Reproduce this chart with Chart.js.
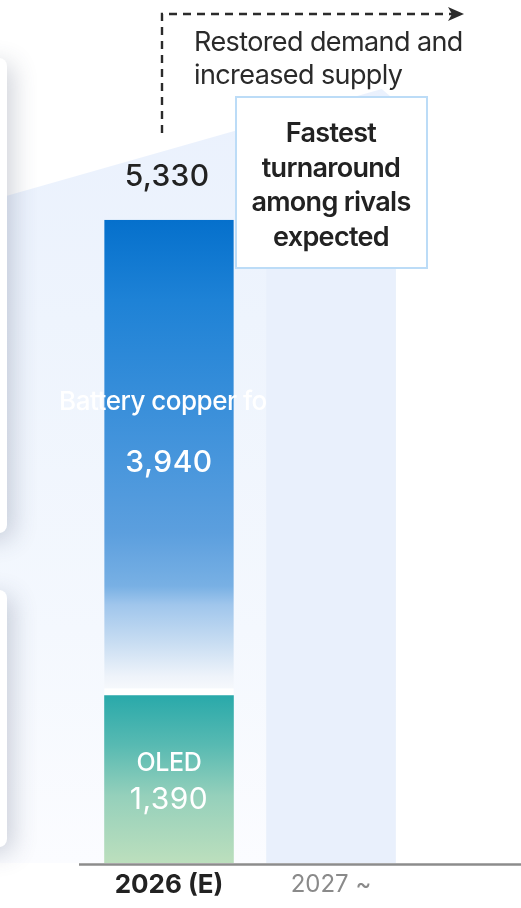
<!DOCTYPE html>
<html lang="en">
<head>
<meta charset="UTF-8">
<title>Copper foil demand outlook</title>
<script src="https://cdn.jsdelivr.net/npm/chart.js"></script>
<style>
  html, body { margin: 0; padding: 0; background: #fff; overflow: hidden; }
  .wrap { position: relative; width: 521px; height: 908px; }
  canvas { position: absolute; left: 0; top: 0; }
  /* cards of the previous panel peeking in from the left */
  .card {
    position: absolute;
    left: -300px;
    width: 307px;
    background: #fff;
    border-radius: 8px;
    box-shadow: 6px 6px 24px rgba(60, 70, 100, 0.24);
    z-index: 2;
  }
  .card.one { top: 58px; height: 475px; }
  .card.two { top: 590px; height: 257px; }
</style>
</head>
<body>
<div class="wrap">
  <canvas id="foilChart" width="521" height="908"></canvas>
  <div class="card one"></div>
  <div class="card two"></div>
</div>

<script>
  const categories = ['2026 (E)', '2027 ~'];
  const oled = [1390, null];
  const battery = [3940, null];
  const outlook = [null, 5600];   // 2027 column, no figure printed
  const totals = [5330, null];
  const seriesNames = ['OLED', 'Battery copper foil', 'Outlook'];
  const noteLines = ['Fastest', 'turnaround', 'among rivals', 'expected'];
  const arrowLines = ['Restored demand and', 'increased supply'];

  const fmt = v => v.toLocaleString('en-US');
  const font = (w, s) => `${w} ${s}px Inter, "Noto Sans", sans-serif`;

  // vertical gradient over one stacked segment
  function segGradient(ctx, from, to, stops) {
    const chart = ctx.chart;
    if (!chart.chartArea) return stops[0][1];
    const y = chart.scales.y;
    const g = chart.ctx.createLinearGradient(0, y.getPixelForValue(to), 0, y.getPixelForValue(from));
    stops.forEach(([o, c]) => g.addColorStop(o, c));
    return g;
  }

  function text(ctx, str, x, y, f, color, align, spacing) {
    ctx.font = f;
    ctx.fillStyle = color;
    ctx.textAlign = align || 'center';
    ctx.textBaseline = 'alphabetic';
    ctx.letterSpacing = spacing || '0px';
    ctx.fillText(str, x, y);
  }

  const BOX = { w: 191, top: 97, h: 171 };

  const decor = {
    id: 'decor',
    beforeDatasetsDraw(chart) {
      // pale wedge rising from the left edge toward the 2027 column
      const { ctx, scales: { y } } = chart;
      const col = chart.getDatasetMeta(2).data[1];
      const first = chart.getDatasetMeta(1).data[0];
      const base = y.getPixelForValue(0);
      const right = col.x + col.width / 2;
      const g = ctx.createLinearGradient(0, BOX.top - 10, 0, base);
      g.addColorStop(0, '#eaf1fd');
      g.addColorStop(0.3, '#eef4fd');
      g.addColorStop(0.7, '#f4f8fe');
      g.addColorStop(1, '#fbfcff');
      ctx.save();
      ctx.fillStyle = g;
      ctx.beginPath();
      ctx.moveTo(0, first.y - 22);
      ctx.lineTo(right - 14, BOX.top - 8);
      ctx.lineTo(right, BOX.top + 4);
      ctx.lineTo(right, base);
      ctx.lineTo(0, base);
      ctx.closePath();
      ctx.fill();
      ctx.restore();
    },
    afterDatasetDraw(chart, args) {
      if (args.index === 2) return;
      const ctx = chart.ctx;
      const el = chart.getDatasetMeta(args.index).data[0];
      if (!el) return;
      const mid = (el.y + el.base) / 2;
      ctx.save();
      if (args.index === 1) {
        text(ctx, seriesNames[1], el.x, mid - 47, font(500, 26), '#fff', 'center', '-0.5px');
        text(ctx, fmt(battery[0]), el.x, mid + 15, font(500, 30), '#fff', 'center', '0.5px');
      } else {
        text(ctx, seriesNames[0], el.x, mid - 8, font(500, 25), '#fff', 'center', '-0.3px');
        text(ctx, fmt(oled[0]), el.x, mid + 30, font(400, 30), '#fff', 'center', '0.5px');
      }
      ctx.restore();
    },
    afterDraw(chart) {
      const { ctx, scales: { y } } = chart;
      const base = y.getPixelForValue(0);
      const top = chart.getDatasetMeta(1).data[0];
      const col = chart.getDatasetMeta(2).data[1];
      ctx.save();

      // baseline
      ctx.strokeStyle = '#8c8c8c';
      ctx.lineWidth = 2.5;
      ctx.beginPath();
      ctx.moveTo(79, base + 1.5);
      ctx.lineTo(chart.width, base + 1.5);
      ctx.stroke();

      // total above the stack
      text(ctx, fmt(totals[0]), top.x - 2, top.y - 34, font(500, 30), '#222', 'center', '0.3px');

      // dashed arrow
      ctx.strokeStyle = '#2b2b2b';
      ctx.lineWidth = 2.4;
      ctx.setLineDash([8, 6]);
      ctx.beginPath();
      ctx.moveTo(162, 133);
      ctx.lineTo(162, 14);
      ctx.lineTo(452, 14);
      ctx.stroke();
      ctx.setLineDash([]);
      ctx.fillStyle = '#2b2b2b';
      ctx.beginPath();
      ctx.moveTo(464, 14);
      ctx.lineTo(448, 7);
      ctx.lineTo(452, 14);
      ctx.lineTo(448, 21);
      ctx.closePath();
      ctx.fill();

      arrowLines.forEach((s, i) => {
        text(ctx, s, 194, 51 + i * 33, font(400, 27), '#2a2a2a', 'left', '-0.6px');
      });

      // note box over the 2027 column
      const bx = col.x - 95;
      ctx.fillStyle = '#fff';
      ctx.fillRect(bx, BOX.top, BOX.w, BOX.h);
      ctx.strokeStyle = '#bcdcf7';
      ctx.lineWidth = 2;
      ctx.strokeRect(bx, BOX.top, BOX.w, BOX.h);
      noteLines.forEach((s, i) => {
        text(ctx, s, col.x, 142 + i * 34.7, font(600, 27), '#222', 'center', '-0.7px');
      });

      ctx.restore();
    }
  };

  new Chart(document.getElementById('foilChart'), {
    type: 'bar',
    data: {
      labels: categories,
      datasets: [
        {
          label: seriesNames[0],
          data: oled,
          order: 0,
          backgroundColor: c => segGradient(c, 0, oled[0], [
            [0, '#29a9aa'], [0.3, '#58bab2'], [0.6, '#95d0bb'], [1, '#bcdfbd']
          ])
        },
        {
          label: seriesNames[1],
          data: battery,
          order: 2,
          borderColor: '#fff',
          borderWidth: { top: 0, left: 0, right: 0, bottom: 7 },
          borderSkipped: false,
          backgroundColor: c => segGradient(c, oled[0], oled[0] + battery[0], [
            [0, '#0570cc'], [0.17, '#1e82d6'], [0.51, '#4896dc'], [0.66, '#5c9fde'],
            [0.77, '#78b0e4'], [0.81, '#a0c6ec'], [0.89, '#c8ddf2'], [0.96, '#eef3fa'], [1, '#fafbfd']
          ])
        },
        {
          label: seriesNames[2],
          data: outlook,
          order: 1,
          backgroundColor: '#e9f0fc'
        }
      ]
    },
    options: {
      responsive: false,
      animation: false,
      layout: { padding: { left: 88, right: 109, top: 0, bottom: 0 } },
      datasets: { bar: { categoryPercentage: 0.8, barPercentage: 1 } },
      plugins: { legend: { display: false }, tooltip: { enabled: false } },
      scales: {
        x: {
          stacked: true,
          grid: { display: false, drawTicks: false },
          border: { display: false },
          ticks: {
            padding: 7,
            color: c => c.index === 0 ? '#222' : '#8a8a8a',
            font: c => c.index === 0
              ? { family: 'Inter', size: 26, weight: '700' }
              : { family: 'Inter', size: 24, weight: '400' }
          },
          afterFit: s => { s.height = 45; }
        },
        y: {
          stacked: true,
          display: false,
          min: 0,
          max: 7150
        }
      }
    },
    plugins: [decor]
  });
</script>
</body>
</html>
